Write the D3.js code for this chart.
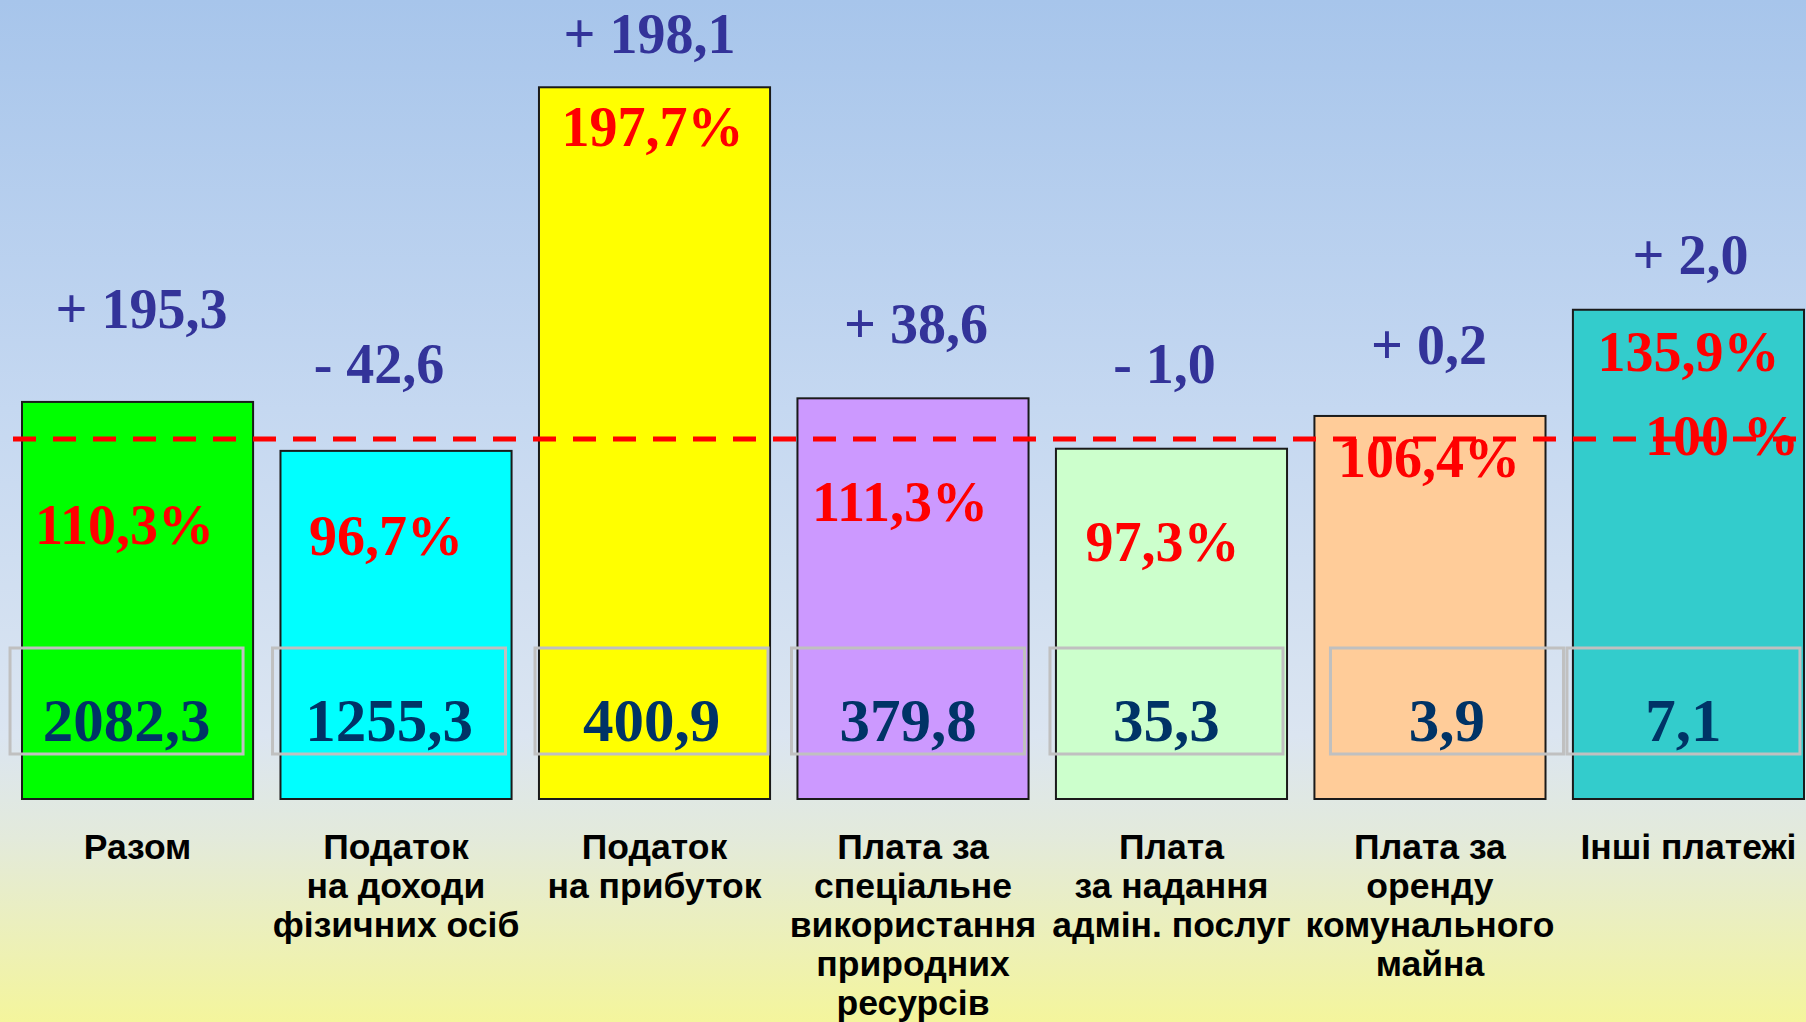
<!DOCTYPE html>
<html>
<head>
<meta charset="utf-8">
<script src="https://cdn.jsdelivr.net/npm/d3@7"></script>
<style>
  html, body { margin: 0; padding: 0; background: #fff; }
  svg { display: block; }
  .num { font-family: "Times New Roman", "Liberation Serif", serif; font-weight: bold; }
  .cat { font-family: Arial, "Liberation Sans", sans-serif; font-weight: bold; }
</style>
</head>
<body>
<svg id="vis" width="1806" height="1022"></svg>
<script>
  // data
  var categories = [
    ["Разом"],
    ["Податок", "на доходи", "фізичних осіб"],
    ["Податок", "на прибуток"],
    ["Плата за", "спеціальне", "використання", "природних", "ресурсів"],
    ["Плата", "за надання", "адмін. послуг"],
    ["Плата за", "оренду", "комунального", "майна"],
    ["Інші платежі"]
  ]
  var percent = [110.3, 96.7, 197.7, 111.3, 97.3, 106.4, 135.9]
  var amount = ["2082,3", "1255,3", "400,9", "379,8", "35,3", "3,9", "7,1"]
  var delta = ["+ 195,3", "- 42,6", "+ 198,1", "+ 38,6", "- 1,0", "+ 0,2", "+ 2,0"]
  var colors = ["#00ff00", "#00ffff", "#ffff00", "#cc99ff", "#ccffcc", "#ffcc99", "#33cccc"]
  var target = 100

  // hand-placed label nudges (layout only)
  var deltaLift = [74, 68, 34, 55, 66, 52, 36]
  var deltaShift = [4, -17, -5, 3, -7, -1, 2]
  var pctDrop = [142, 104, 59, 123, 112, 61, 61]
  var pctShift = [-13, -10, -2, -13, -9, -1, 0]
  var valShift = [-11, -7, -3, -5, -5, 17, -5]

  var svg = d3.select("#vis")
  var width = 1806, height = 1022

  // background gradient
  var grad = svg.append("defs").append("linearGradient")
      .attr("id", "bg").attr("x1", 0).attr("y1", 0).attr("x2", 0).attr("y2", 1)
  grad.append("stop").attr("offset", "0%").attr("stop-color", "#a7c5eb")
  grad.append("stop").attr("offset", "40%").attr("stop-color", "#c5d8f1")
  grad.append("stop").attr("offset", "72%").attr("stop-color", "#dbe5f1")
  grad.append("stop").attr("offset", "82%").attr("stop-color", "#e3eadb")
  grad.append("stop").attr("offset", "100%").attr("stop-color", "#f4f59c")
  svg.append("rect").attr("width", width).attr("height", height).attr("fill", "url(#bg)")

  var x = d3.scaleBand()
      .domain(d3.range(percent.length))
      .range([22, 1804])
      .paddingInner(0.106)
      .paddingOuter(0)
  var y = d3.scaleLinear().domain([0, 100]).range([799, 439])

  var g = svg.selectAll("g.bar").data(percent).enter().append("g").attr("class", "bar")

  g.append("rect")
      .attr("x", (d, i) => x(i))
      .attr("y", d => y(d))
      .attr("width", x.bandwidth())
      .attr("height", d => y(0) - y(d))
      .attr("fill", (d, i) => colors[i])
      .attr("stroke", "#1a1a1a")
      .attr("stroke-width", 2)

  // value boxes
  var boxW = 233
  g.append("rect")
      .attr("x", (d, i) => x(i) + x.bandwidth() / 2 + valShift[i] - boxW / 2)
      .attr("y", y(0) - 151)
      .attr("width", boxW)
      .attr("height", 106)
      .attr("fill", "none")
      .attr("stroke", "#c0c0c0")
      .attr("stroke-width", 3)

  g.append("text").attr("class", "num")
      .attr("x", (d, i) => x(i) + x.bandwidth() / 2 + valShift[i])
      .attr("y", y(0) - 58)
      .attr("text-anchor", "middle")
      .attr("font-size", 61)
      .attr("fill", "#003366")
      .text((d, i) => amount[i])

  g.append("text").attr("class", "num")
      .attr("x", (d, i) => x(i) + x.bandwidth() / 2 + pctShift[i])
      .attr("y", (d, i) => y(d) + pctDrop[i])
      .attr("text-anchor", "middle")
      .attr("font-size", 56)
      .attr("fill", "#ff0000")
      .text(d => String(d).replace(".", ",") + "%")

  g.append("text").attr("class", "num")
      .attr("x", (d, i) => x(i) + x.bandwidth() / 2 + deltaShift[i])
      .attr("y", (d, i) => y(d) - deltaLift[i])
      .attr("text-anchor", "middle")
      .attr("font-size", 56)
      .attr("fill", "#333399")
      .text((d, i) => delta[i])

  // 100% line
  svg.append("line")
      .attr("x1", 13).attr("x2", width)
      .attr("y1", y(target)).attr("y2", y(target))
      .attr("stroke", "#ff0000")
      .attr("stroke-width", 5)
      .attr("stroke-dasharray", "23,17")
  svg.append("text").attr("class", "num")
      .attr("x", 1645).attr("y", y(target) + 16)
      .attr("font-size", 56)
      .attr("fill", "#ff0000")
      .text(target + " %")

  // category labels
  var cat = g.append("text").attr("class", "cat")
      .attr("text-anchor", "middle")
      .attr("font-size", 35.5)
      .attr("fill", "#000")
      .attr("transform", (d, i) => "translate(" + (x(i) + x.bandwidth() / 2) + ",859)")
  cat.selectAll("tspan").data((d, i) => categories[i]).enter().append("tspan")
      .attr("x", 0)
      .attr("y", (d, j) => j * 39)
      .text(d => d)
</script>
</body>
</html>
